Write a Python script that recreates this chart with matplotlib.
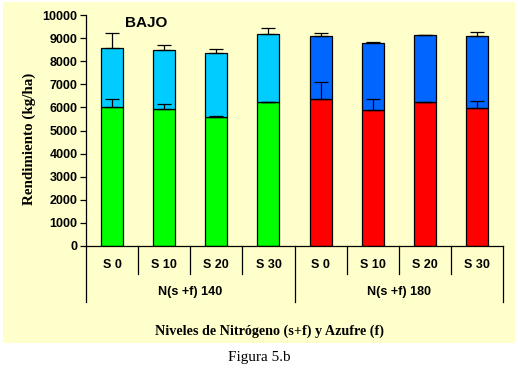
"""
Stacked yield bars (BAJO) by nitrogen level and sulfur dose, with upper error bars.
"""

import matplotlib
matplotlib.use("Agg")
import numpy as np
import matplotlib.pyplot as plt
from matplotlib.patches import Rectangle

sulfur_labels = ["S 0", "S 10", "S 20", "S 30", "S 0", "S 10", "S 20", "S 30"]
group_labels = ["N(s +f) 140", "N(s +f) 180"]

lower_values = [6000, 5920, 5590, 6220, 6350, 5880, 6220, 5960]
total_values = [8580, 8470, 8340, 9160, 9070, 8790, 9120, 9070]
lower_err = [380, 220, 30, 0, 750, 470, 0, 310]
total_err = [660, 220, 200, 260, 170, 25, 30, 180]

lower_colors = ["#00FF00"] * 4 + ["#FF0000"] * 4
upper_colors = ["#00CCFF"] * 4 + ["#0066FF"] * 4

BG = "#FFFFCC"
SERIF = "Liberation Serif"
SANS = "Liberation Sans"

fig = plt.figure(figsize=(5.18, 3.68), dpi=100)
fig.patch.set_facecolor("white")
fig.patches.append(Rectangle((3 / 518, 25 / 368), 512 / 518, 341 / 368,
                             transform=fig.transFigure, facecolor=BG,
                             edgecolor="none", zorder=-5))

ax = fig.add_axes([86 / 518, 122 / 368, 417 / 518, 231 / 368])
ax.patch.set_alpha(0)

x = np.arange(len(sulfur_labels))
upper = np.array(total_values) - np.array(lower_values)

ax.bar(x, lower_values, width=0.42, color=lower_colors, edgecolor="black",
       linewidth=0.9, zorder=2)
ax.bar(x, upper, bottom=lower_values, width=0.42, color=upper_colors,
       edgecolor="black", linewidth=0.9, zorder=2)

for xs, vals, errs in [(x, lower_values, lower_err), (x, total_values, total_err)]:
    ax.errorbar(xs, vals, yerr=[np.zeros(len(errs)), errs], fmt="none",
                ecolor="black", elinewidth=0.9, capsize=5, capthick=0.9,
                zorder=3)

ax.set_xlim(-0.5, len(x) - 0.5)
ax.set_ylim(0, 10000)
ax.set_yticks(np.arange(0, 10001, 1000))
ax.tick_params(axis="y", direction="out", length=4, width=0.9, pad=2)
for lab in ax.get_yticklabels():
    lab.set_fontfamily(SANS)
    lab.set_fontweight("bold")
    lab.set_fontsize(9)
ax.set_xticks([])

for side in ["top", "right"]:
    ax.spines[side].set_visible(False)
for side in ["left", "bottom"]:
    ax.spines[side].set_linewidth(0.9)

trans = ax.get_xaxis_transform()

# category separators and labels
for i in range(len(x) + 1):
    depth = -0.242 if i in (0, 4, 8) else -0.121
    ax.plot([i - 0.5, i - 0.5], [0, depth], color="black", lw=0.9,
            transform=trans, clip_on=False)
for i, lab in enumerate(sulfur_labels):
    ax.text(i, -0.082, lab, transform=trans, ha="center", va="center",
            fontfamily=SANS, fontweight="bold", fontsize=9)
for g, lab in enumerate(group_labels):
    ax.text(g * 4 + 1.5, -0.199, lab, transform=trans, ha="center",
            va="center", fontfamily=SANS, fontweight="bold", fontsize=9)

ax.text(0.44, -0.368, "Niveles de Nitrógeno (s+f) y Azufre (f)",
        transform=ax.transAxes, ha="center", va="center", fontfamily=SERIF,
        fontweight="bold", fontsize=10.2)
fig.text(29 / 518, 1 - 139 / 368, "Rendimiento (kg/ha)", rotation=90,
         ha="center", va="center", fontfamily=SERIF, fontweight="bold",
         fontsize=10.8)
ax.text(0.145, 0.965, "BAJO", transform=ax.transAxes, ha="center",
        va="center", fontfamily=SANS, fontweight="bold", fontsize=11)

fig.text(0.5, 1 - 358 / 368, "Figura 5.b", ha="center", va="center",
         fontfamily=SERIF, fontsize=11)

fig.savefig("out.png", dpi=100, facecolor=fig.get_facecolor())
